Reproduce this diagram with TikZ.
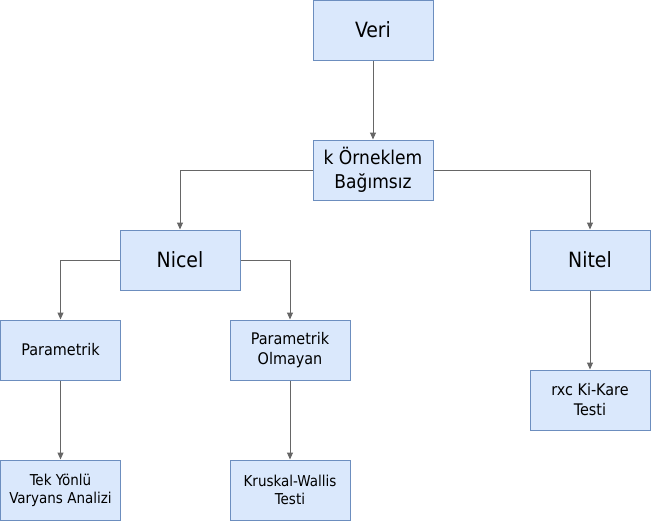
\documentclass[tikz,border=0pt]{standalone}
\usepackage{fontspec}
\setmainfont{DejaVu Sans Condensed}
\usetikzlibrary{arrows.meta}
\definecolor{boxfill}{HTML}{DAE8FC}
\definecolor{boxline}{HTML}{6C8EBF}
\definecolor{edgecol}{HTML}{666666}
\tikzset{
  box/.style={draw=boxline, fill=boxfill, line width=1pt, minimum width=120pt, minimum height=60pt, inner sep=0pt, align=center, text=black},
  big/.style={font=\fontsize{21}{25}\selectfont},
  mid/.style={font=\fontsize{19}{24}\selectfont},
  sml/.style={font=\fontsize{16}{20}\selectfont},
  tiny/.style={font=\fontsize{15}{18}\selectfont},
  conn/.style={draw=edgecol, line width=1pt, -{Triangle[length=7pt,width=6pt]}}
}
\begin{document}
\begin{tikzpicture}[x=1pt,y=-1pt]
\useasboundingbox (0,0) rectangle (651,522);
\node[box,big] (veri) at (373,30) {Veri};
\node[box,mid] (kor) at (373,170) {k Örneklem\\Bağımsız};
\node[box,big] (nicel) at (180,260) {Nicel};
\node[box,big] (nitel) at (590,260) {Nitel};
\node[box,sml] (param) at (60.5,350) {Parametrik};
\node[box,sml] (nonparam) at (290,350) {Parametrik\\Olmayan};
\node[box,tiny] (tek) at (60.5,490) {Tek Yönlü\\Varyans Analizi};
\node[box,tiny] (krus) at (290,490) {Kruskal-Wallis\\Testi};
\node[box,sml] (rxc) at (590,400) {rxc Ki-Kare\\Testi};
\draw[conn] (veri.south) -- (kor.north);
\draw[conn] (kor.west) -| (nicel.north);
\draw[conn] (kor.east) -| (nitel.north);
\draw[conn] (nicel.west) -| (param.north);
\draw[conn] (nicel.east) -| (nonparam.north);
\draw[conn] (param.south) -- (tek.north);
\draw[conn] (nonparam.south) -- (krus.north);
\draw[conn] (nitel.south) -- (rxc.north);
\end{tikzpicture}
\end{document}
